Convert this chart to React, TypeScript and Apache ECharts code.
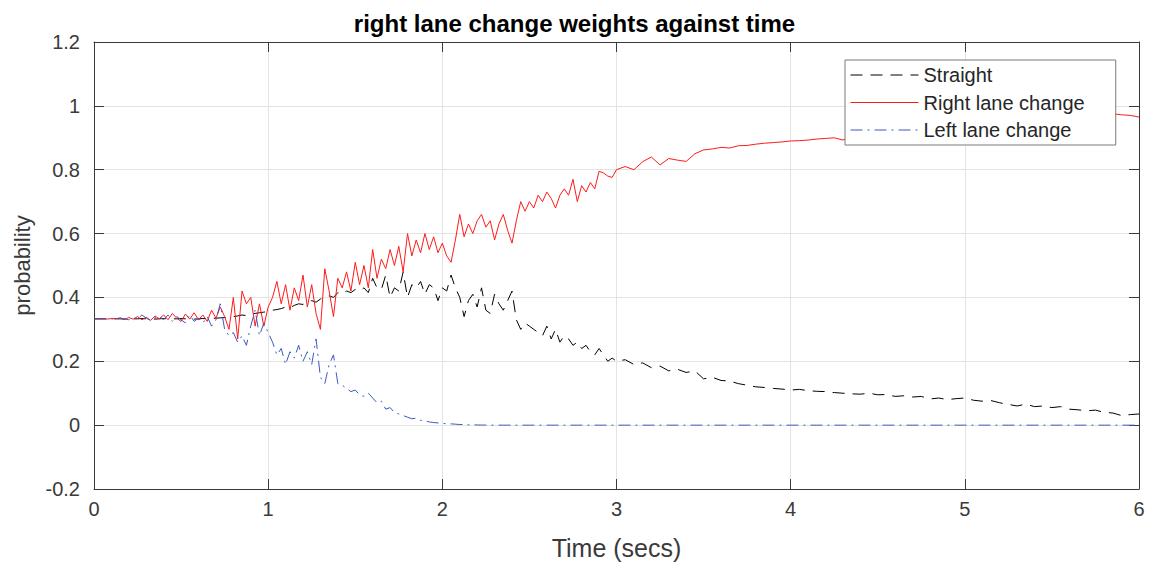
import React, { useEffect, useRef } from "react";
import * as echarts from "echarts";

// x sampling: 0..3 s every 0.025 s, then 3.05..6 s every 0.05 s
const timesA: number[] = [];
for (let i = 0; i <= 120; i++) timesA.push(Math.round(i * 25) / 1000);
const timesB: number[] = [];
for (let i = 61; i <= 120; i++) timesB.push(Math.round(i * 50) / 1000);
const times = [...timesA, ...timesB];

const straightA = [
  0.333, 0.333, 0.333, 0.333, 0.334, 0.333, 0.333, 0.332, 0.333, 0.333,
  0.333, 0.334, 0.333, 0.333, 0.332, 0.333, 0.334, 0.333, 0.333, 0.333,
  0.334, 0.333, 0.333, 0.332, 0.333, 0.334, 0.333, 0.334, 0.335, 0.336,
  0.337, 0.338, 0.340, 0.342, 0.345, 0.343, 0.348, 0.350, 0.352, 0.354,
  0.356, 0.360, 0.362, 0.365, 0.370, 0.368, 0.375, 0.380, 0.378, 0.385,
  0.390, 0.385, 0.395, 0.400, 0.405, 0.400, 0.415, 0.410, 0.420, 0.415,
  0.425, 0.420, 0.430, 0.415, 0.460, 0.430, 0.425, 0.470, 0.400, 0.430,
  0.420, 0.480, 0.400, 0.440, 0.430, 0.450, 0.410, 0.440, 0.430, 0.390,
  0.430, 0.420, 0.470, 0.430, 0.400, 0.340, 0.390, 0.410, 0.370, 0.430,
  0.360, 0.350, 0.410, 0.380, 0.360, 0.390, 0.420, 0.330, 0.300, 0.320,
  0.310, 0.300, 0.290, 0.280, 0.310, 0.270, 0.300, 0.260, 0.280, 0.270,
  0.250, 0.260, 0.240, 0.250, 0.230, 0.220, 0.240, 0.220, 0.200, 0.210,
  0.200,
];
const straightB = [
  0.205, 0.19, 0.195, 0.18, 0.185, 0.17, 0.175, 0.165, 0.17, 0.145,
  0.15, 0.14, 0.138, 0.13, 0.125, 0.12, 0.118, 0.115, 0.113, 0.11,
  0.112, 0.108, 0.106, 0.105, 0.102, 0.1, 0.098, 0.097, 0.1, 0.095,
  0.096, 0.09, 0.092, 0.088, 0.09, 0.082, 0.085, 0.08, 0.083, 0.085,
  0.078, 0.075, 0.077, 0.07, 0.065, 0.06, 0.066, 0.058, 0.06, 0.055,
  0.058, 0.05, 0.048, 0.045, 0.047, 0.04, 0.038, 0.03, 0.033, 0.035,
];

const rightA = [
  0.333, 0.333, 0.334, 0.332, 0.334, 0.333, 0.336, 0.331, 0.337, 0.332,
  0.340, 0.330, 0.338, 0.328, 0.342, 0.333, 0.345, 0.330, 0.350, 0.335,
  0.325, 0.348, 0.332, 0.352, 0.330, 0.345, 0.325, 0.360, 0.335, 0.370,
  0.340, 0.300, 0.400, 0.270, 0.420, 0.380, 0.400, 0.310, 0.380, 0.310,
  0.370, 0.400, 0.450, 0.380, 0.440, 0.360, 0.430, 0.390, 0.470, 0.370,
  0.440, 0.350, 0.300, 0.490, 0.420, 0.340, 0.460, 0.430, 0.480, 0.420,
  0.510, 0.440, 0.500, 0.430, 0.550, 0.460, 0.520, 0.490, 0.550, 0.500,
  0.560, 0.480, 0.600, 0.530, 0.580, 0.540, 0.600, 0.550, 0.590, 0.540,
  0.570, 0.530, 0.510, 0.580, 0.660, 0.590, 0.630, 0.600, 0.640, 0.660,
  0.620, 0.640, 0.580, 0.630, 0.660, 0.610, 0.570, 0.640, 0.700, 0.670,
  0.700, 0.680, 0.720, 0.700, 0.730, 0.710, 0.680, 0.720, 0.740, 0.720,
  0.770, 0.700, 0.750, 0.730, 0.760, 0.740, 0.795, 0.790, 0.780, 0.776,
  0.800,
];
const rightB = [
  0.81, 0.80, 0.825, 0.84, 0.815, 0.835, 0.83, 0.826, 0.85, 0.862,
  0.865, 0.87, 0.868, 0.875, 0.876, 0.88, 0.883, 0.885, 0.887, 0.89,
  0.891, 0.893, 0.896, 0.898, 0.9, 0.893, 0.902, 0.905, 0.908, 0.91,
  0.912, 0.915, 0.918, 0.92, 0.922, 0.925, 0.928, 0.93, 0.932, 0.935,
  0.937, 0.94, 0.942, 0.945, 0.947, 0.95, 0.952, 0.953, 0.955, 0.957,
  0.958, 0.96, 0.962, 0.963, 0.97, 0.98, 0.975, 0.972, 0.97, 0.965,
];

const leftA = [
  0.333, 0.333, 0.332, 0.334, 0.333, 0.331, 0.335, 0.333, 0.330, 0.336,
  0.332, 0.345, 0.335, 0.328, 0.336, 0.340, 0.330, 0.345, 0.325, 0.340,
  0.330, 0.320, 0.345, 0.325, 0.335, 0.320, 0.340, 0.310, 0.330, 0.380,
  0.300, 0.280, 0.290, 0.260, 0.280, 0.250, 0.310, 0.360, 0.280, 0.320,
  0.290, 0.260, 0.220, 0.240, 0.190, 0.230, 0.210, 0.250, 0.200, 0.230,
  0.190, 0.270, 0.150, 0.130, 0.190, 0.220, 0.130, 0.125, 0.115, 0.105,
  0.110, 0.095, 0.090, 0.100, 0.085, 0.070, 0.075, 0.050, 0.055, 0.040,
  0.035, 0.030, 0.025, 0.020, 0.022, 0.015, 0.014, 0.010, 0.008, 0.007,
  0.006, 0.004, 0.004, 0.003, 0.002, 0.002, 0.001, 0.001, 0.0005, 0.0003,
  0.0002, 0.0001, 0, 0, 0, 0, 0, 0, 0, 0,
  0, 0, 0, 0, 0, 0, 0, 0, 0, 0,
  0, 0, 0, 0, 0, 0, 0, 0, 0, 0,
  0,
];
const leftB = [
  0, 0, 0, 0, 0, 0, 0, 0, 0, 0,
  0, 0, 0, 0, 0, 0, 0, 0, 0, 0,
  0, 0, 0, 0, 0, 0, 0, 0, 0, 0,
  0, 0, 0, 0, 0, 0, 0, 0, 0, 0,
  0, 0, 0, 0, 0, 0, 0, 0, 0, 0,
  0, 0, 0, 0, 0, 0, 0, 0, 0, 0,
];

const straight = [...straightA, ...straightB];
const rightLane = [...rightA, ...rightB];
const leftLane = [...leftA, ...leftB];

const seriesNames = ["Straight", "Right lane change", "Left lane change"];

const FONT = "'Liberation Sans', Arial, Helvetica, sans-serif";
const AXIS_COLOR = "#3a3a3a";
const LABEL_COLOR = "#3a3a3a";

export default function App() {
  const ref = useRef<HTMLDivElement>(null);
  useEffect(() => {
    if (!ref.current) return;
    const chart = echarts.init(ref.current, undefined, { renderer: "svg" });
    const pair = (vals: number[]) => times.map((t, i) => [t, vals[i]]);
    const frameAxis = {
      axisLine: { show: true, onZero: false, lineStyle: { color: AXIS_COLOR, width: 1 } },
      axisTick: { show: true, inside: true, length: 10, lineStyle: { color: AXIS_COLOR } },
    };
    chart.setOption({
      animation: false,
      backgroundColor: "#ffffff",
      textStyle: { fontFamily: FONT },
      title: {
        text: "right lane change weights against time",
        left: "center",
        top: 6,
        textStyle: { fontSize: 24, fontWeight: "bold", color: "#000", fontFamily: FONT },
      },
      grid: { left: 94, right: 10, top: 42, bottom: 74, containLabel: false },
      legend: {
        data: seriesNames,
        orient: "vertical",
        left: 845,
        top: 60,
        padding: [5, 31, 5, 5],
        itemGap: 7.5,
        itemWidth: 68,
        itemHeight: 20,
        itemTextGap: 7,
        backgroundColor: "#ffffff",
        borderColor: "#7a7a7a",
        borderWidth: 1,
        itemStyle: { color: "transparent", borderColor: "transparent", borderWidth: 0, opacity: 0 },
        lineStyle: { width: 1 },
        textStyle: { fontSize: 20, color: "#262626", fontFamily: FONT, lineHeight: 20 },
      },
      xAxis: [
        {
          type: "value",
          min: 0,
          max: 6,
          interval: 1,
          position: "bottom",
          name: "Time (secs)",
          nameLocation: "middle",
          nameGap: 46,
          nameTextStyle: { fontSize: 25, color: LABEL_COLOR, fontFamily: FONT },
          ...frameAxis,
          axisLabel: { fontSize: 20, color: LABEL_COLOR, margin: 10, fontFamily: FONT },
          splitLine: { show: true, lineStyle: { color: "#e3e3e3", width: 1 } },
        },
        {
          type: "value",
          min: 0,
          max: 6,
          interval: 1,
          position: "top",
          ...frameAxis,
          axisLabel: { show: false },
          splitLine: { show: false },
        },
      ],
      yAxis: [
        {
          type: "value",
          min: -0.2,
          max: 1.2,
          interval: 0.2,
          position: "left",
          name: "probability",
          nameLocation: "middle",
          nameGap: 61,
          nameTextStyle: { fontSize: 22, color: LABEL_COLOR, fontFamily: FONT },
          ...frameAxis,
          axisLabel: {
            fontSize: 20,
            color: LABEL_COLOR,
            margin: 14,
            fontFamily: FONT,
            formatter: (v: number) => String(Math.round(v * 10) / 10),
          },
          splitLine: { show: true, lineStyle: { color: "#e3e3e3", width: 1 } },
        },
        {
          type: "value",
          min: -0.2,
          max: 1.2,
          interval: 0.2,
          position: "right",
          ...frameAxis,
          axisLabel: { show: false },
          splitLine: { show: false },
        },
      ],
      series: [
        {
          name: seriesNames[0],
          type: "line",
          symbol: "none",
          data: pair(straight),
          lineStyle: { color: "#000000", width: 1, type: [12, 8] },
          itemStyle: { color: "#000000" },
          z: 2,
        },
        {
          name: seriesNames[1],
          type: "line",
          symbol: "none",
          data: pair(rightLane),
          lineStyle: { color: "#ff1a1a", width: 1, type: "solid" },
          itemStyle: { color: "#ff1a1a" },
          z: 2,
        },
        {
          name: seriesNames[2],
          type: "line",
          symbol: "none",
          data: pair(leftLane),
          lineStyle: { color: "#3a5bbf", width: 1, type: [12, 5, 2, 5] },
          itemStyle: { color: "#3a5bbf" },
          z: 2,
        },
      ],
    });
    return () => chart.dispose();
  }, []);
  return (
    <div
      ref={ref}
      style={{ position: "fixed", left: 0, top: 0, width: 1149, height: 565 }}
    />
  );
}
